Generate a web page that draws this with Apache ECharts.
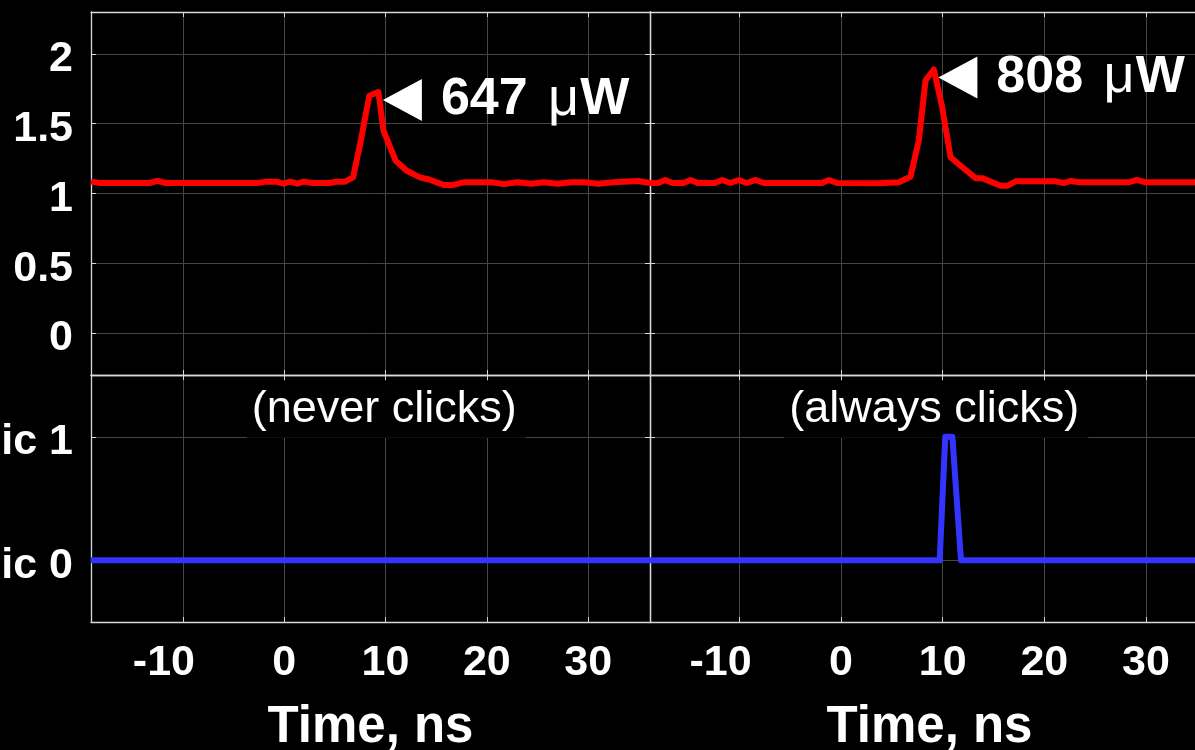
<!DOCTYPE html>
<html>
<head>
<meta charset="utf-8">
<script src="https://cdn.jsdelivr.net/npm/echarts@6/dist/echarts.min.js"></script>
<style>
  html, body { margin: 0; padding: 0; background: #000; }
  #chart { width: 1195px; height: 750px; }
</style>
</head>
<body>
<div id="chart"></div>
<script>
// Tick values and labels
const timeTicks = [-10, 0, 10, 20, 30];
const powerTicks = [0, 0.5, 1, 1.5, 2];
const logicTicks = [0, 1];
const logicLabels = ['Logic 0', 'Logic 1'];

// Optical power at the detector, mW, weaker pulse: [time ns, power]
const powerWeak = [
  [-19.06, 1.085], [-18.2, 1.075], [-13.3, 1.075], [-12.5, 1.09], [-11.7, 1.075],
  [-2.7, 1.075], [-1.7, 1.085], [-0.7, 1.085], [-0.1, 1.07], [0.6, 1.085],
  [1.3, 1.07], [1.9, 1.085], [2.8, 1.075], [4.5, 1.075], [5.2, 1.085],
  [6.0, 1.085], [6.8, 1.115], [7.5, 1.355], [8.4, 1.70], [9.3, 1.727],
  [9.8, 1.45], [11.0, 1.235], [12.1, 1.163], [13.4, 1.115], [14.3, 1.10],
  [15.8, 1.06], [16.6, 1.06], [17.7, 1.08], [20.4, 1.08], [21.7, 1.068],
  [23.0, 1.08], [24.4, 1.07], [25.6, 1.08], [27.0, 1.07], [28.3, 1.08],
  [29.6, 1.08], [31.0, 1.07], [32.5, 1.08], [34.9, 1.09], [36.1, 1.075]
];

// Optical power, stronger pulse
const powerStrong = [
  [-18.8, 1.075], [-18.0, 1.075], [-17.3, 1.097], [-16.6, 1.075], [-15.5, 1.075],
  [-14.8, 1.097], [-14.1, 1.075], [-12.4, 1.075], [-11.7, 1.097], [-10.9, 1.075],
  [-10.07, 1.097], [-9.3, 1.075], [-8.4, 1.097], [-7.6, 1.075], [-1.9, 1.075],
  [-1.2, 1.097], [-0.4, 1.075], [3.7, 1.073], [5.68, 1.08], [6.83, 1.12],
  [7.65, 1.38], [8.31, 1.81], [9.13, 1.888], [9.94, 1.62], [10.77, 1.26],
  [11.91, 1.19], [13.23, 1.11], [13.88, 1.11], [15.69, 1.055], [16.34, 1.055],
  [17.17, 1.087], [21.1, 1.087], [21.92, 1.075], [22.58, 1.09], [23.4, 1.08],
  [28.3, 1.08], [29.1, 1.097], [29.96, 1.08], [36.2, 1.08]
];

// Detector logic output
const logicWeak = [[-19.06, 0], [36.1, 0]];
const logicStrong = [[-18.8, 0], [9.7, 0], [10.25, 1], [10.95, 1], [11.8, 0], [36.2, 0]];

// Pulse height above the baseline, µW
const pulseAmplitudes = ['647', '808'];
const clickNotes = ['(never clicks)', '(always clicks)'];

const FONT = "'Liberation Sans', Arial, Helvetica, sans-serif";
const BORDER = '#d9d9d9';
const GRIDC = '#464646';
const RED = '#ff0000';
const BLUE = '#3434ff';

const panels = [
  { left: 91,  top: 12,  height: 363, xr: [-19.06, 36.1], yr: [-0.3, 2.3], ticks: powerTicks, logic: false, yLabels: true,  xLabels: false },
  { left: 91,  top: 375, height: 247, xr: [-19.06, 36.1], yr: [-0.5, 1.5], ticks: logicTicks, logic: true,  yLabels: true,  xLabels: true },
  { left: 650, top: 12,  height: 363, xr: [-18.8, 36.2],  yr: [-0.3, 2.3], ticks: powerTicks, logic: false, yLabels: false, xLabels: false },
  { left: 650, top: 375, height: 247, xr: [-18.8, 36.2],  yr: [-0.5, 1.5], ticks: logicTicks, logic: true,  yLabels: false, xLabels: true }
];

const tickFont = { color: '#fff', fontSize: 43, fontWeight: 'bold', fontFamily: FONT };

const grids = [], xAxes = [], yAxes = [];
panels.forEach((p, g) => {
  grids.push({
    left: p.left, top: p.top, width: 559, height: p.height,
    show: false, containLabel: false, outerBoundsMode: 'none'
  });
  const lineCommon = { show: true, onZero: false, lineStyle: { color: BORDER, width: 1.3 } };
  // bottom time axis
  xAxes.push({
    type: 'value', gridIndex: g, position: 'bottom', min: p.xr[0], max: p.xr[1],
    axisLine: lineCommon,
    axisTick: { show: true, inside: true, length: 5, customValues: timeTicks, lineStyle: { color: BORDER } },
    axisLabel: Object.assign({
      show: p.xLabels, customValues: timeTicks, margin: 20,
      // negative labels hang to the left of their tick
      formatter: (v) => (v < 0 ? '{neg|' + v + '}' : String(v)),
      rich: { neg: Object.assign({ width: 100, align: 'left' }, tickFont) }
    }, tickFont),
    splitLine: { show: true, lineStyle: { color: GRIDC, width: 1 } },
    name: p.xLabels ? 'Time, ns' : '', nameLocation: 'middle', nameGap: 80,
    nameTextStyle: { color: '#fff', fontSize: 51, fontWeight: 'bold', fontFamily: FONT }
  });
  // top edge of the box
  xAxes.push({
    type: 'value', gridIndex: g, position: 'top', min: p.xr[0], max: p.xr[1],
    axisLine: lineCommon,
    axisTick: { show: true, inside: true, length: 5, customValues: timeTicks, lineStyle: { color: BORDER } },
    axisLabel: { show: false }, splitLine: { show: false }
  });
  // left value axis
  yAxes.push({
    type: 'value', gridIndex: g, position: 'left', min: p.yr[0], max: p.yr[1],
    axisLine: lineCommon,
    axisTick: { show: true, inside: true, length: 5, customValues: p.ticks, lineStyle: { color: BORDER } },
    axisLabel: Object.assign({
      show: p.yLabels, customValues: p.ticks, margin: 18,
      verticalAlign: 'top', lineHeight: 11,
      formatter: p.logic ? (v) => logicLabels[logicTicks.indexOf(Math.round(v))] || '' : (v) => String(v)
    }, tickFont),
    splitLine: { show: true, lineStyle: { color: GRIDC, width: 1 } }
  });
  // right edge of the box
  yAxes.push({
    type: 'value', gridIndex: g, position: 'right', min: p.yr[0], max: p.yr[1],
    axisLine: lineCommon,
    axisTick: { show: true, inside: true, length: 5, customValues: p.ticks, lineStyle: { color: BORDER } },
    axisLabel: { show: false }, splitLine: { show: false }
  });
});

const peakOf = (arr) => arr.reduce((a, b) => (b[1] > a[1] ? b : a));

function peakMarker(series, amplitude) {
  return {
    silent: true,
    z: 5,
    data: [{
      coord: peakOf(series),
      symbol: 'triangle', symbolRotate: 90, symbolSize: [42, 39], symbolOffset: [24, 8],
      itemStyle: { color: '#fff' },
      label: {
        show: true, position: 'right', distance: 19, color: '#fff',
        formatter: '{n|' + amplitude + ' }{u|\u03bc}{n|W}',
        rich: {
          n: { color: '#fff', fontSize: 52, fontWeight: 'bold', fontFamily: FONT },
          u: { color: '#fff', fontSize: 54, fontWeight: 'normal', fontFamily: FONT, padding: [0, 1, 0, 6] }
        }
      }
    }]
  };
}

function noteMarker(text, t) {
  return {
    silent: true,
    z: 5,
    data: [{
      coord: [t, 1.222],
      symbol: 'rect', symbolSize: 0,
      label: {
        show: true, position: 'inside', formatter: text,
        color: '#fff', fontSize: 45, fontFamily: FONT, lineHeight: 50,
        backgroundColor: '#000', padding: [7, 9, 0, 5]
      }
    }]
  };
}

function trace(data, g, color, extra) {
  return Object.assign({
    type: 'line', xAxisIndex: 2 * g, yAxisIndex: 2 * g, data: data,
    symbol: 'none', showSymbol: false, animation: false, silent: true,
    lineStyle: { color: color, width: 6, join: 'round' }
  }, extra || {});
}

const option = {
  backgroundColor: '#000',
  animation: false,
  grid: grids,
  xAxis: xAxes,
  yAxis: yAxes,
  series: [
    trace(powerWeak, 0, RED, { z: 4, markPoint: peakMarker(powerWeak, pulseAmplitudes[0]) }),
    trace(logicWeak, 1, BLUE, { z: 6, markPoint: noteMarker(clickNotes[0], 10.08) }),
    trace(powerStrong, 2, RED, { z: 4, markPoint: peakMarker(powerStrong, pulseAmplitudes[1]) }),
    trace(logicStrong, 3, BLUE, { z: 6, markPoint: noteMarker(clickNotes[1], 9.36) })
  ]
};

const chart = echarts.init(document.getElementById('chart'), null, { renderer: 'canvas' });
chart.setOption(option);
</script>
</body>
</html>
